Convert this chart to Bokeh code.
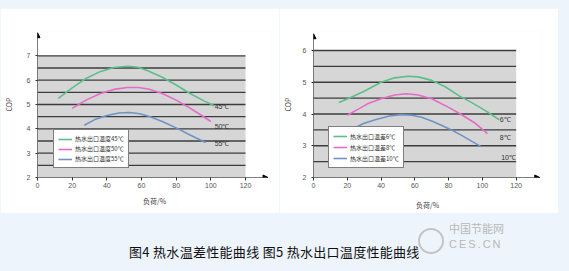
from bokeh.plotting import figure
from bokeh.models import (Range1d, FixedTicker, Legend, LegendItem, Arrow, NormalHead,
                          Div, Spacer)
from bokeh.layouts import column, row
from bokeh.embed import file_html
from bokeh.resources import INLINE
from bokeh.core.properties import value

BG = "#edf4fb"
PANEL = "#d6d6d6"
GRIDC = "#3c3c3c"
COLORS = ["#5cbf8a", "#e66ac8", "#6f93c4"]
TICKF = "Liberation Sans"

x_ticks = [0, 20, 40, 60, 80, 100, 120]

# ---- Figure 4 data ----
l_y_ticks = [2, 3, 4, 5, 6, 7]
l_grid = [2.5, 3, 3.5, 4, 4.5, 5, 5.5, 6, 6.5, 7]
l_names = ["热水出口温度45℃", "热水出口温度50℃", "热水出口温度55℃"]
l_tags = ["45℃", "50℃", "55℃"]
l_x1 = [12, 20, 28, 36, 44, 52, 58, 64, 72, 80, 88, 96, 102]
l_y1 = [5.25, 5.68, 6.07, 6.35, 6.52, 6.57, 6.53, 6.38, 6.12, 5.80, 5.45, 5.15, 4.95]
l_x2 = [20, 28, 36, 44, 52, 58, 64, 72, 80, 88, 94, 100]
l_y2 = [4.84, 5.18, 5.44, 5.62, 5.70, 5.70, 5.64, 5.45, 5.18, 4.85, 4.58, 4.30]
l_x3 = [27, 33, 40, 47, 53, 59, 65, 72, 80, 88, 97]
l_y3 = [4.15, 4.38, 4.55, 4.65, 4.67, 4.62, 4.50, 4.30, 4.04, 3.75, 3.44]
l_tag_x = [106.5, 106.5, 106.5]
l_tag_y = [4.92, 4.11, 3.38]

# ---- Figure 5 data ----
r_y_ticks = [2, 3, 4, 5, 6]
r_grid = [2.5, 3, 3.5, 4, 4.5, 5, 5.5, 6]
r_names = ["热水出口温差6℃", "热水出口温差8℃", "热水出口温差10℃"]
r_tags = ["6℃", "8℃", "10℃"]
r_x1 = [15, 22, 30, 40, 48, 56, 62, 70, 78, 86, 94, 102, 110]
r_y1 = [4.36, 4.52, 4.72, 5.00, 5.14, 5.19, 5.17, 5.06, 4.86, 4.58, 4.35, 4.10, 3.82]
r_x2 = [20, 26, 32, 40, 48, 55, 62, 70, 80, 88, 96, 103]
r_y2 = [3.96, 4.14, 4.32, 4.48, 4.60, 4.64, 4.60, 4.48, 4.21, 3.97, 3.70, 3.38]
r_x3 = [24, 30, 37, 45, 52, 58, 64, 70, 76, 82, 88, 94, 99]
r_y3 = [3.56, 3.71, 3.83, 3.94, 3.98, 3.96, 3.90, 3.78, 3.64, 3.49, 3.32, 3.13, 2.98]
r_tag_x = [113.5, 113.5, 115.5]
r_tag_y = [3.82, 3.26, 2.62]


def make_chart(width, height, borders, yr, xr, y_ticks, grid, series, names, tags,
               tag_x, tag_y, arrow_ends, legend_loc, legend_row, ylabel_standoff,
               xlabel_standoff):
    bl, br, bt, bb = borders
    p = figure(width=width, height=height, output_backend="svg", toolbar_location=None,
               x_range=Range1d(*xr), y_range=Range1d(*yr),
               min_border_left=bl, min_border_right=br, min_border_top=bt,
               min_border_bottom=bb, background_fill_color="white",
               border_fill_color="white", outline_line_color=None)
    p.xgrid.visible = False
    p.ygrid.visible = False
    x0, x1 = x_ticks[0], x_ticks[-1]
    y0, y1 = y_ticks[0], y_ticks[-1]
    p.quad(left=[x0], right=[x1], bottom=[y0], top=[y1], fill_color=PANEL,
           line_color=None)
    p.segment(x0=[x0] * len(grid), x1=[x1] * len(grid), y0=grid, y1=grid,
              line_color=GRIDC, line_width=1.4)
    rs = []
    for (xs, ys), c in zip(series, COLORS):
        rs.append(p.line(xs, ys, line_color=c, line_width=1.6, line_join="round"))
    p.text(x=tag_x, y=tag_y, text=tags, text_font=value(TICKF), text_font_size="7px",
           text_color="#333333", text_align="center", text_baseline="middle")
    # axes
    for ax in (p.xaxis[0], p.yaxis[0]):
        ax.axis_line_color = None
        ax.major_label_text_font = TICKF
        ax.major_label_text_font_size = "7px"
        ax.major_label_text_color = "#555555"
        ax.axis_label_text_font = "Noto Sans CJK SC"
        ax.axis_label_text_font_size = "7px"
        ax.axis_label_text_font_style = "normal"
        ax.axis_label_text_color = "#444444"
        ax.minor_tick_line_color = None
        ax.major_tick_in = 0
        ax.major_tick_line_color = "#333333"
    p.xaxis.ticker = FixedTicker(ticks=x_ticks)
    p.yaxis.ticker = FixedTicker(ticks=y_ticks)
    p.xaxis.major_tick_out = 3
    p.yaxis.major_tick_out = 2
    p.xaxis.major_label_standoff = 2
    p.yaxis.major_label_standoff = 5
    p.xaxis.axis_label = "负荷/%"
    p.yaxis.axis_label = "COP"
    p.yaxis.axis_label_standoff = ylabel_standoff
    p.xaxis.axis_label_standoff = xlabel_standoff
    p.add_layout(Arrow(end=NormalHead(size=5, fill_color="black", line_color="black"),
                       x_start=x0, y_start=y0, x_end=x0, y_end=arrow_ends[1],
                       line_color="black", line_width=1))
    p.add_layout(Arrow(end=NormalHead(size=5, fill_color="black", line_color="black"),
                       x_start=x0, y_start=y0, x_end=arrow_ends[0], y_end=y0,
                       line_color="black", line_width=1))
    leg = Legend(items=[LegendItem(label=n, renderers=[r]) for n, r in zip(names, rs)],
                 location=legend_loc, orientation="vertical",
                 label_text_font="Noto Sans CJK SC", label_text_font_size="6px",
                 label_text_color="#333333",
                 label_height=legend_row, glyph_height=legend_row, glyph_width=14,
                 label_standoff=3, spacing=1, padding=4, margin=0,
                 border_line_color="black", border_line_width=1,
                 background_fill_color="white", background_fill_alpha=1)
    p.add_layout(leg, "center")
    return p


p1 = make_chart(279, 205, (36, 8, 6, 31), (2, 8), (0, 135), l_y_ticks, l_grid,
                [(l_x1, l_y1), (l_x2, l_y2), (l_x3, l_y3)], l_names, l_tags,
                l_tag_x, l_tag_y, (133, 7.95), (16, 9), 8, 10, 5)
p2 = make_chart(279, 205, (33, 17, 23, 36), (2, 6.6), (0, 135), r_y_ticks, r_grid,
                [(r_x1, r_y1), (r_x2, r_y2), (r_x3, r_y3)], r_names, r_tags,
                r_tag_x, r_tag_y, (134, 6.53), (15, 9), 10, 7, 9)

caption = Div(width=569, height=58, styles={"background-color": BG}, text=(
    '<div style="position:relative;width:569px;height:58px;">'
    '<span style="position:absolute;left:124px;top:26px;font-family:\'Noto Sans CJK SC\';'
    'font-size:13px;color:#111;white-space:nowrap;line-height:15px;letter-spacing:0.3px;">'
    '图4 热水温差性能曲线 图5 热水出口温度性能曲线</span>'
    '<span style="position:absolute;left:413px;top:10px;width:26px;height:26px;'
    'border:2px solid #c4c4c4;border-radius:50%;"></span>'
    '<span style="position:absolute;left:444px;top:4px;font-family:\'Noto Sans CJK SC\';'
    'font-size:11px;color:#b8b8b8;white-space:nowrap;line-height:13px;">中国节能网</span>'
    '<span style="position:absolute;left:444px;top:20px;font-family:\'Liberation Sans\';'
    'font-size:11px;color:#b8b8b8;white-space:nowrap;letter-spacing:2px;line-height:13px;">CES.CN</span>'
    '</div>'))

top = Spacer(width=569, height=8)
right_gap = Spacer(width=11, height=205)
layout = column(top, row(p1, p2, right_gap), caption,
                styles={"background-color": BG})

open("out.html", "w").write(file_html(layout, INLINE))
